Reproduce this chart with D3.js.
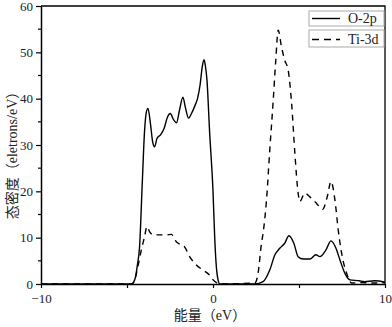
<!DOCTYPE html>
<html>
<head>
<meta charset="utf-8">
<script src="https://cdn.jsdelivr.net/npm/d3@7"></script>
<style>
  html, body { margin: 0; padding: 0; background: #fff; }
</style>
</head>
<body>
<div id="chart"></div>
<script>
// energy (eV) and density of states
const o2pEnergy = [-10, -4.75, -4.6, -4.5, -4.4, -4.27, -4.11, -3.98, -3.88, -3.78, -3.65, -3.5, -3.4, -3.25, -3.05, -2.85, -2.65, -2.48, -2.3, -2.12, -1.95, -1.75, -1.6, -1.42, -1.25, -1.05, -0.9, -0.75, -0.62, -0.52, -0.44, -0.35, -0.2, 0.0, 0.1, 0.17, 0.3, 0.4, 2.43, 2.91, 3.3, 3.6, 3.88, 4.17, 4.41, 4.7, 4.95, 5.24, 5.63, 5.98, 6.22, 6.56, 6.86, 7.15, 7.38, 7.67, 7.96, 8.5, 8.8, 9.4, 10];
const o2pDos = [0, 0, 0.5, 1.6, 4, 8, 22, 33, 37, 37.9, 35, 30.5, 29.6, 31.5, 32.2, 33.5, 36, 36.8, 35.5, 34.8, 37.5, 40.3, 38, 35.8, 36.8, 38.5, 40, 43, 47, 48.4, 47, 44, 33, 20, 10, 5, 0.8, 0, 0, 0.5, 3, 6.3, 7.7, 8.8, 10.4, 8.8, 5.9, 5.4, 5.4, 6.3, 5.9, 7.3, 9.3, 7.7, 5.2, 2.3, 0.9, 0.7, 0.5, 0.7, 0.4];

const ti3dEnergy = [-10, -4.7, -4.55, -4.37, -4.17, -3.98, -3.84, -3.69, -3.49, -3.1, -2.71, -2.42, -2.13, -1.84, -1.65, -1.36, -0.97, -0.58, -0.19, 0.0, 0.2, 0.4, 2.43, 2.62, 2.82, 2.91, 3.11, 3.3, 3.49, 3.65, 3.79, 3.98, 4.17, 4.37, 4.57, 4.76, 4.95, 5.05, 5.34, 5.63, 6.02, 6.37, 6.64, 6.86, 7.09, 7.28, 7.48, 7.77, 8.06, 8.6, 9.3, 10];
const ti3dDos = [0, 0, 0.9, 3.7, 7.3, 10.2, 12.4, 11.3, 10.6, 10.6, 10.6, 10.7, 9.1, 8.4, 8.0, 5.9, 4.1, 3.0, 1.9, 0.9, 0.3, 0, 0.2, 2.3, 8.8, 10.9, 18.1, 28.9, 39, 48.3, 54.8, 51.2, 48.3, 46.2, 39, 28.2, 19.6, 17.8, 19.6, 18.8, 17.4, 16.1, 18.8, 22.1, 18.1, 11.7, 6.6, 2.3, 0.2, 0.3, 0.2, 0.3];

const seriesNames = ["O-2p", "Ti-3d"];
const xTickValues = [-10, -5, 0, 5, 10];
const xTickLabels = ["\u221210", "", "0", "", "10"];
const yTickValues = [0, 10, 20, 30, 40, 50, 60];
const yMinorTicks = [5, 15, 25, 35, 45, 55];

const width = 392, height = 327;
const margin = { top: 6, right: 7, bottom: 43, left: 41 };
const serif = '"Liberation Serif", "Noto Sans CJK SC", serif';

const series = [
  { name: seriesNames[0], dash: null, values: o2pEnergy.map((e, i) => [e, o2pDos[i]]) },
  { name: seriesNames[1], dash: "6,5", values: ti3dEnergy.map((e, i) => [e, ti3dDos[i]]) },
];

const x = d3.scaleLinear().domain([-10, 10]).range([margin.left, width - margin.right]);
const y = d3.scaleLinear().domain([0, 60]).range([height - margin.bottom, margin.top]);

const svg = d3.select("#chart").append("svg")
  .attr("width", width)
  .attr("height", height)
  .attr("viewBox", [0, 0, width, height]);

const line = d3.line()
  .x((d) => x(d[0]))
  .y((d) => y(d[1]))
  .curve(d3.curveMonotoneX);

svg.append("g")
  .selectAll("path")
  .data(series)
  .join("path")
  .attr("fill", "none")
  .attr("stroke", "#000")
  .attr("stroke-width", 1.4)
  .attr("stroke-dasharray", (d) => d.dash)
  .attr("d", (d) => line(d.values));

// frame (top and right)
svg.append("path")
  .attr("fill", "none")
  .attr("stroke", "#000")
  .attr("stroke-width", 1.3)
  .attr("d", `M${x(-10)},${y(60)}H${x(10)}V${y(0)}`);

// x axis
const xAxis = svg.append("g")
  .attr("transform", `translate(0,${y(0)})`)
  .call(d3.axisBottom(x).tickValues(xTickValues).tickSize(4).tickSizeOuter(0)
    .tickFormat((d, i) => xTickLabels[i]));
xAxis.select(".domain").attr("stroke-width", 1.5);
xAxis.selectAll(".tick line").attr("stroke-width", 1.2);
xAxis.selectAll(".tick text")
  .attr("font-size", 13)
  .attr("fill", "#222")
  .attr("dy", "0.95em");

// y axis
const yAxis = svg.append("g")
  .attr("transform", `translate(${x(-10)},0)`)
  .call(d3.axisLeft(y).tickValues(yTickValues).tickSize(5).tickSizeOuter(0));
yAxis.select(".domain").attr("stroke-width", 1.5);
yAxis.selectAll(".tick line").attr("stroke-width", 1.2);
yAxis.selectAll(".tick text").attr("font-size", 13).attr("fill", "#222").attr("x", -8);

svg.append("g")
  .selectAll("line")
  .data(yMinorTicks)
  .join("line")
  .attr("x1", x(-10) - 3)
  .attr("x2", x(-10))
  .attr("y1", (d) => y(d))
  .attr("y2", (d) => y(d))
  .attr("stroke", "#000")
  .attr("stroke-width", 1.2);

// axis titles
svg.append("text")
  .attr("x", 210)
  .attr("y", 320)
  .attr("text-anchor", "middle")
  .attr("font-size", 14)
  .attr("fill", "#222")
  .text("能量（eV）");

svg.append("text")
  .attr("transform", `translate(17,${152}) rotate(-90)`)
  .attr("text-anchor", "middle")
  .attr("font-size", 14)
  .attr("fill", "#222")
  .text("态密度（eletrons/eV）");

// legend
const legend = svg.append("g")
  .selectAll("g")
  .data(series)
  .join("g")
  .attr("transform", (d, i) => `translate(309,${i === 0 ? 11 : 30})`);

legend.append("rect")
  .attr("width", 75)
  .attr("height", (d, i) => (i === 0 ? 15 : 17))
  .attr("fill", "#fff")
  .attr("stroke", "#aaa")
  .attr("stroke-width", 1);

legend.append("line")
  .attr("x1", 3)
  .attr("x2", 31)
  .attr("y1", (d, i) => (i === 0 ? 7.5 : 9.5))
  .attr("y2", (d, i) => (i === 0 ? 7.5 : 9.5))
  .attr("stroke", "#000")
  .attr("stroke-width", 1.4)
  .attr("stroke-dasharray", (d) => (d.dash ? "7,5" : null));

legend.append("text")
  .attr("x", 39)
  .attr("y", (d, i) => (i === 0 ? 7.5 : 9.5))
  .attr("dy", "0.35em")
  .attr("font-size", 14)
  .attr("fill", "#222")
  .text((d) => d.name);

svg.selectAll("text").style("font-family", serif);
</script>
</body>
</html>
